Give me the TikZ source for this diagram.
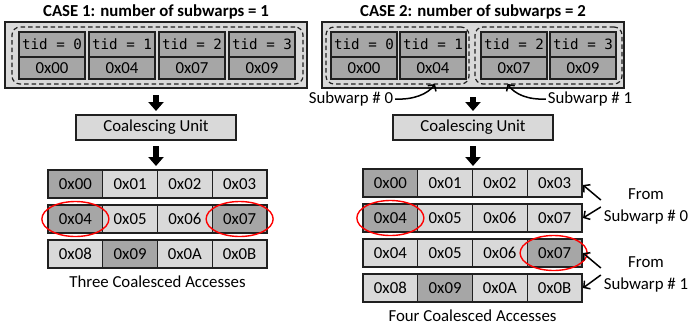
\documentclass[tikz,border=0pt]{standalone}
\usepackage{fontspec}
\setmainfont{Carlito}
\newfontfamily\monofont{DejaVu Sans Mono}
\usetikzlibrary{arrows.meta,shapes.geometric}
\definecolor{lt}{HTML}{D9D9D9}
\definecolor{dk}{HTML}{A6A6A6}
\definecolor{ln}{HTML}{202020}
\tikzset{
 base/.style={inner sep=0pt, outer sep=0pt, font=\fontsize{16.8}{20}\selectfont},
 tidcell/.style={base, draw=ln, line width=1.3pt, fill=dk, minimum width=66pt, minimum height=25pt, anchor=north west, font=\monofont\fontsize{14.2}{16}\selectfont},
 addrcell/.style={base, draw=ln, line width=1.3pt, fill=dk, minimum width=66pt, minimum height=22pt, anchor=north west},
 memcell/.style={base, draw=ln, line width=1.2pt, minimum width=54.75pt, minimum height=28pt, anchor=north west},
 rowline/.style={draw=ln, line width=2pt},
 outerbox/.style={base, draw=ln, line width=1.2pt, fill=lt, minimum height=66pt},
 groupbox/.style={base, draw=ln, line width=1.2pt, dash pattern=on 4.5pt off 3pt, rounded corners=8pt, minimum height=57pt},
 cubox/.style={base, draw=ln, line width=1.2pt, fill=lt, minimum width=160pt, minimum height=25pt},
 blockarrow/.style={draw=black, line width=6pt, -{Triangle[width=15pt,length=9pt]}},
 ptr/.style={draw=black, line width=1.5pt, -{Straight Barb[length=4.5pt,width=10pt]}},
 redring/.style={ellipse, draw=red, line width=1.4pt, minimum width=67pt, minimum height=35pt, inner sep=0pt},
 titletext/.style={base, font=\bfseries\fontsize{16.8}{20}\selectfont},
 label/.style={base, align=center, font=\fontsize{16.8}{22}\selectfont},
}
\begin{document}
\begin{tikzpicture}[x=1pt,y=-1pt]
\path[use as bounding box, fill=white] (0,0) rectangle (691,333);

% ---------------- CASE 1 ----------------
\node[titletext] (t1) at (156,12) {CASE 1: number of subwarps = 1};
\node[outerbox, minimum width=302pt] (outer1) at (156,55) {};
\node[groupbox, minimum width=291pt] (g1) at (157.5,55.5) {};
\foreach \k/\x [count=\i from 0] in {0/19,1/89,2/159,3/229}
  \node[tidcell] (LT\i) at (\x,32) {tid = \k};
\foreach \a/\x [count=\i from 0] in {0x00/19,0x04/89,0x07/159,0x09/229}
  \node[addrcell] (LA\i) at (\x,57) {\a};

\node[cubox] (cu1) at (156,127.5) {Coalescing Unit};

\foreach \t/\c [count=\i from 0] in {0x00/dk,0x01/lt,0x02/lt,0x03/lt}
  \node[memcell, fill=\c] (L1\i) at ({48+54.75*\i},170) {\t};
\foreach \t/\c [count=\i from 0] in {0x04/dk,0x05/lt,0x06/lt,0x07/dk}
  \node[memcell, fill=\c] (L2\i) at ({48+54.75*\i},205) {\t};
\foreach \t/\c [count=\i from 0] in {0x08/lt,0x09/dk,0x0A/lt,0x0B/lt}
  \node[memcell, fill=\c] (L3\i) at ({48+54.75*\i},240) {\t};
\draw[rowline] (L10.north west) rectangle (L13.south east);
\draw[rowline] (L20.north west) rectangle (L23.south east);
\draw[rowline] (L30.north west) rectangle (L33.south east);

\node[redring] (e1) at (L20.center) {};
\node[redring] (e2) at (L23.center) {};

\node[base] (cap1) at (157.5,282) {Three Coalesced Accesses};

\draw[blockarrow, shorten <=7pt, shorten >=4pt] (outer1.south) -- (cu1.north);
\draw[blockarrow, shorten <=6pt, shorten >=4pt] (cu1.south) -- (cu1.south |- L11.north);

% ---------------- CASE 2 ----------------
\node[titletext] (t2) at (473,12) {CASE 2: number of subwarps = 2};
\node[outerbox, minimum width=302pt] (outer2) at (473,55) {};
\node[groupbox, minimum width=143pt] (g21) at (397.5,55.5) {};
\node[groupbox, minimum width=147pt] (g22) at (548.5,55.5) {};
\foreach \k/\x [count=\i from 0] in {0/331,1/400,2/481,3/550}
  \node[tidcell] (RT\i) at (\x,32) {tid = \k};
\foreach \a/\x [count=\i from 0] in {0x00/331,0x04/400,0x07/481,0x09/550}
  \node[addrcell] (RA\i) at (\x,57) {\a};

\node[label] (sw0) at (351,99) {Subwarp \# 0};
\node[label] (sw1) at (590,99) {Subwarp \# 1};
\draw[ptr] ([xshift=2pt]sw0.east) .. controls +(18,1) and +(-7,10) .. ([xshift=37.5pt]g21.south);
\draw[ptr] ([xshift=-2pt]sw1.west) .. controls +(-18,1) and +(7,10) .. ([xshift=-41pt]g22.south);

\node[cubox] (cu2) at (473,127.5) {Coalescing Unit};

\foreach \t/\c [count=\i from 0] in {0x00/dk,0x01/lt,0x02/lt,0x03/lt}
  \node[memcell, fill=\c] (R1\i) at ({363+54.75*\i},169) {\t};
\foreach \t/\c [count=\i from 0] in {0x04/dk,0x05/lt,0x06/lt,0x07/lt}
  \node[memcell, fill=\c] (R2\i) at ({363+54.75*\i},204) {\t};
\foreach \t/\c [count=\i from 0] in {0x04/lt,0x05/lt,0x06/lt,0x07/dk}
  \node[memcell, fill=\c] (R3\i) at ({363+54.75*\i},239) {\t};
\foreach \t/\c [count=\i from 0] in {0x08/lt,0x09/dk,0x0A/lt,0x0B/lt}
  \node[memcell, fill=\c] (R4\i) at ({363+54.75*\i},274) {\t};
\draw[rowline] (R10.north west) rectangle (R13.south east);
\draw[rowline] (R20.north west) rectangle (R23.south east);
\draw[rowline] (R30.north west) rectangle (R33.south east);
\draw[rowline] (R40.north west) rectangle (R43.south east);

\node[redring] (e3) at (R20.center) {};
\node[redring] (e4) at ([xshift=-1pt]R33.center) {};

\node[base] (cap2) at (472.5,316) {Four Coalesced Accesses};

\draw[blockarrow, shorten <=9pt, shorten >=4pt] (outer2.south) -- (cu2.north);
\draw[blockarrow, shorten <=6pt, shorten >=3pt] (cu2.south) -- (cu2.south |- R11.north);

\node[label] (fr0) at (646,206) {From\\Subwarp \# 0};
\node[label] (fr1) at (646,274) {From\\Subwarp \# 1};
\draw[ptr] ([xshift=-3pt,yshift=6pt]fr0.west) -- ([xshift=1pt,yshift=-2pt]R13.east);
\draw[ptr] ([xshift=-3pt,yshift=-1pt]fr0.west) -- ([xshift=1pt]R23.east);
\draw[ptr] ([xshift=-3pt,yshift=6pt]fr1.west) -- ([xshift=1pt]R33.east);
\draw[ptr] ([xshift=-3pt,yshift=-1pt]fr1.west) -- ([xshift=1pt]R43.east);
\end{tikzpicture}
\end{document}
